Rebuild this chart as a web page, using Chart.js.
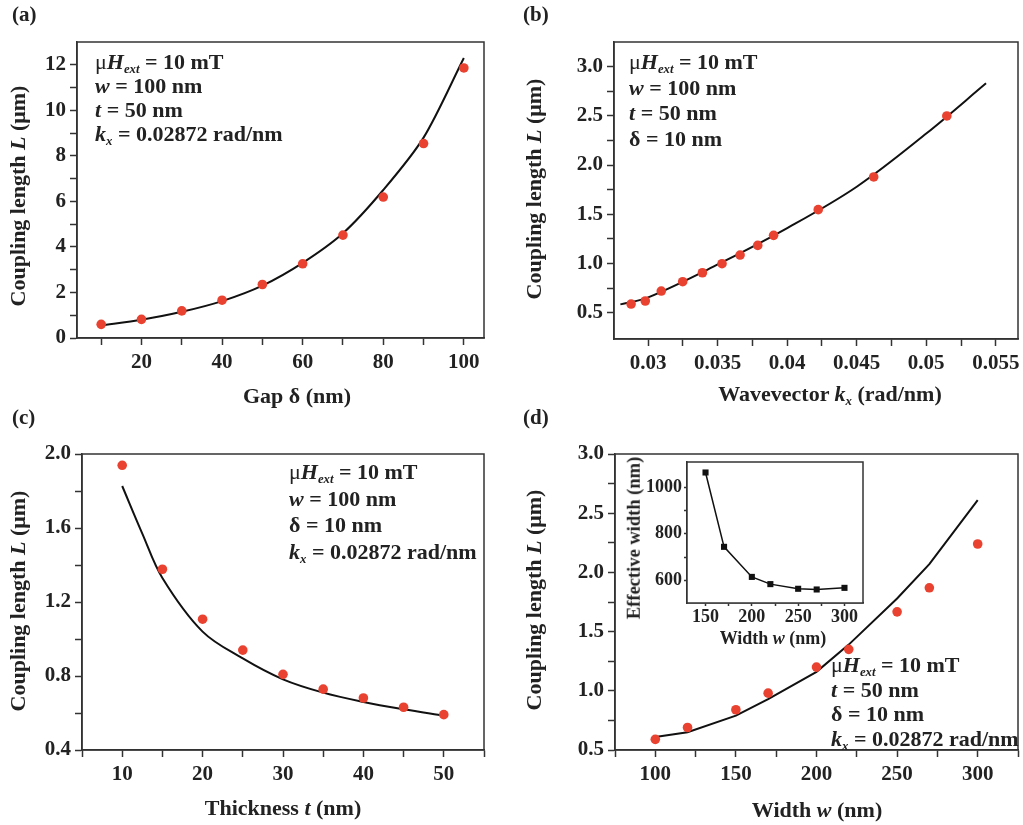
<!DOCTYPE html>
<html>
<head>
<meta charset="utf-8">
<title>Coupling length</title>
<script src="https://cdn.jsdelivr.net/npm/chart.js@4.4.0/dist/chart.umd.min.js"></script>
<style>
html, body { margin: 0; padding: 0; background: #fff; overflow: hidden; }
#page { position: relative; width: 1023px; height: 825px; font-family: "Liberation Serif", "Times New Roman", serif; font-weight: bold; color: #222; }
canvas { position: absolute; left: 0; top: 0; }
.t { position: absolute; white-space: nowrap; line-height: 1; transform: translate(-50%, -50%); font-size: 22px; }
.rot { transform: translate(-50%, -50%) rotate(-90deg); }
.small { font-size: 18px; }
.lbl { position: absolute; font-size: 21px; line-height: 24px; }
.ann { position: absolute; white-space: nowrap; font-size: 22px; line-height: 24px; }
sub { font-size: 58%; vertical-align: -0.3em; line-height: 0; }
.mu { font-weight: normal; }
</style>
</head>
<body>
<div id="page">
  <canvas id="chartA" width="1023" height="825"></canvas>
  <canvas id="chartB" width="1023" height="825"></canvas>
  <canvas id="chartC" width="1023" height="825"></canvas>
  <canvas id="chartD" width="1023" height="825"></canvas>
  <canvas id="chartInset" width="1023" height="825"></canvas>

  <div class="lbl" style="left:12px;top:2px">(a)</div>
  <div class="lbl" style="left:523px;top:2px">(b)</div>
  <div class="lbl" style="left:12px;top:405px">(c)</div>
  <div class="lbl" style="left:523px;top:405px">(d)</div>

  <div class="t" style="left:297px;top:396px">Gap δ (nm)</div>
  <div class="t rot" style="left:18px;top:196px">Coupling length <i>L</i> (μm)</div>
  <div class="t" style="left:830px;top:394px">Wavevector <i>k<sub>x</sub></i> (rad/nm)</div>
  <div class="t rot" style="left:534px;top:189px">Coupling length <i>L</i> (μm)</div>
  <div class="t" style="left:283px;top:808px">Thickness <i>t</i> (nm)</div>
  <div class="t rot" style="left:18px;top:601px">Coupling length <i>L</i> (μm)</div>
  <div class="t" style="left:817px;top:810px">Width <i>w</i> (nm)</div>
  <div class="t rot" style="left:534px;top:600px">Coupling length <i>L</i> (μm)</div>
  <div class="t small" style="left:773px;top:638px">Width <i>w</i> (nm)</div>
  <div class="t small rot" style="left:634px;top:538px;font-size:18.5px">Effective width (nm)</div>

  <div class="ann" style="left:95px;top:50px">
    <div><span class="mu">μ</span><i>H<sub>ext</sub></i> = 10 mT</div>
    <div><i>w</i> = 100 nm</div>
    <div><i>t</i> = 50 nm</div>
    <div><i>k<sub>x</sub></i> = 0.02872 rad/nm</div>
  </div>
  <div class="ann" style="left:629px;top:49px;line-height:25.5px">
    <div><span class="mu">μ</span><i>H<sub>ext</sub></i> = 10 mT</div>
    <div><i>w</i> = 100 nm</div>
    <div><i>t</i> = 50 nm</div>
    <div>δ = 10 nm</div>
  </div>
  <div class="ann" style="left:289px;top:459px;line-height:26.5px">
    <div><span class="mu">μ</span><i>H<sub>ext</sub></i> = 10 mT</div>
    <div><i>w</i> = 100 nm</div>
    <div>δ = 10 nm</div>
    <div><i>k<sub>x</sub></i> = 0.02872 rad/nm</div>
  </div>
  <div class="ann" style="left:831px;top:653px;line-height:24.5px">
    <div><span class="mu">μ</span><i>H<sub>ext</sub></i> = 10 mT</div>
    <div><i>t</i> = 50 nm</div>
    <div>δ = 10 nm</div>
    <div><i>k<sub>x</sub></i> = 0.02872 rad/nm</div>
  </div>
</div>

<script>
// (a) coupling length vs gap
const gapNm = [10, 20, 30, 40, 50, 60, 70, 80, 90, 100];
const gapL = [0.60, 0.82, 1.19, 1.66, 2.35, 3.26, 4.52, 6.19, 8.54, 11.86];
const gapFitL = [0.55, 0.80, 1.15, 1.62, 2.30, 3.30, 4.60, 6.50, 8.80, 12.30];

// (b) coupling length vs wavevector
const kxVals = [0.02877, 0.02979, 0.03094, 0.03248, 0.03390, 0.03531, 0.03661, 0.03788, 0.03902, 0.04223, 0.04622, 0.05148];
const kxL = [0.588, 0.619, 0.720, 0.815, 0.906, 0.998, 1.086, 1.184, 1.286, 1.547, 1.879, 2.499];
const kxFit = [0.0280, 0.0300, 0.0350, 0.0400, 0.0450, 0.0500, 0.0543];
const kxFitL = [0.585, 0.656, 0.990, 1.360, 1.780, 2.320, 2.830];

// (c) coupling length vs thickness
const thickNm = [10, 15, 20, 25, 30, 35, 40, 45, 50];
const thickL = [1.939, 1.377, 1.107, 0.940, 0.809, 0.729, 0.681, 0.631, 0.591];
const thickFit = [10, 12.5, 15, 20, 25, 30, 35, 40, 45, 50];
const thickFitL = [1.827, 1.570, 1.330, 1.040, 0.895, 0.782, 0.710, 0.660, 0.620, 0.585];

// (d) coupling length vs width, plus inset
const widthNm = [100, 120, 150, 170, 200, 220, 250, 270, 300];
const widthL = [0.59, 0.69, 0.84, 0.98, 1.20, 1.35, 1.667, 1.87, 2.24];
const widthFitL = [0.61, 0.65, 0.79, 0.93, 1.16, 1.39, 1.78, 2.07, 2.61];
const insetW = [150, 170, 200, 220, 250, 270, 300];
const insetEff = [1063, 744, 615, 584, 564, 561, 568];

// tick values and labels
const aXMajor = [20, 40, 60, 80, 100], aXMinor = [10, 30, 50, 70, 90];
const aXLabels = ['20', '40', '60', '80', '100'];
const aYMajor = [0, 2, 4, 6, 8, 10, 12], aYMinor = [1, 3, 5, 7, 9, 11];
const aYLabels = ['0', '2', '4', '6', '8', '10', '12'];
const bXMajor = [0.03, 0.035, 0.04, 0.045, 0.05, 0.055], bXMinor = [0.0325, 0.0375, 0.0425, 0.0475, 0.0525];
const bXLabels = ['0.03', '0.035', '0.04', '0.045', '0.05', '0.055'];
const bYMajor = [0.5, 1.0, 1.5, 2.0, 2.5, 3.0], bYMinor = [0.75, 1.25, 1.75, 2.25, 2.75];
const bYLabels = ['0.5', '1.0', '1.5', '2.0', '2.5', '3.0'];
const cXMajor = [10, 20, 30, 40, 50], cXMinor = [5, 15, 25, 35, 45, 55];
const cXLabels = ['10', '20', '30', '40', '50'];
const cYMajor = [0.4, 0.8, 1.2, 1.6, 2.0], cYMinor = [0.6, 1.0, 1.4, 1.8];
const cYLabels = ['0.4', '0.8', '1.2', '1.6', '2.0'];
const dXMajor = [100, 150, 200, 250, 300], dXMinor = [75, 125, 175, 225, 275, 325];
const dXLabels = ['100', '150', '200', '250', '300'];
const dYMajor = [0.5, 1.0, 1.5, 2.0, 2.5, 3.0], dYMinor = [0.75, 1.25, 1.75, 2.25, 2.75];
const dYLabels = ['0.5', '1.0', '1.5', '2.0', '2.5', '3.0'];
const iXMajor = [150, 200, 250, 300], iXMinor = [175, 225, 275];
const iXLabels = ['150', '200', '250', '300'];
const iYMajor = [600, 800, 1000], iYMinor = [700, 900];
const iYLabels = ['600', '800', '1000'];

const W = 1023, H = 825;
const RED = '#ea4230';

Chart.defaults.font.family = '"Liberation Serif", "Times New Roman", serif';
Chart.defaults.font.weight = 'bold';
Chart.defaults.color = '#222';

function toXY(xs, ys) {
    return xs.map((x, i) => ({ x: x, y: ys[i] }));
}

/**
 * Build a linear axis with fixed ticks, outward tick marks and blank minor labels
 */
function makeAxis(isX, min, max, major, minor, labels, s) {
    const all = major.concat(minor).sort((a, b) => a - b);
    return {
        type: 'linear',
        position: isX ? 'bottom' : 'left',
        min: min,
        max: max,
        afterBuildTicks: function(scale) {
            scale.ticks = all.map(v => ({ value: v }));
        },
        afterFit: function(scale) {
            if (isX) {
                scale.height = s.xh;
                scale.paddingLeft = 0;
                scale.paddingRight = 0;
            } else {
                scale.width = s.yw;
                scale.paddingTop = 0;
                scale.paddingBottom = 0;
            }
        },
        grid: { drawOnChartArea: false, tickLength: s.tick, tickColor: '#333', tickWidth: 1.5 },
        border: { color: '#333', width: 1.5 },
        ticks: {
            autoSkip: false,
            maxRotation: 0,
            minRotation: 0,
            padding: isX ? s.xpad : s.ypad,
            font: { size: s.font },
            color: '#222',
            callback: function(v) {
                const i = major.findIndex(m => Math.abs(m - v) < 1e-9);
                return i < 0 ? '' : labels[i];
            }
        }
    };
}

// frame around the plot area (and white fill for the inset)
const framePlugin = {
    id: 'frame',
    beforeDatasetsDraw(chart, args, opts) {
        if (opts.fill) {
            const a = chart.chartArea;
            chart.ctx.save();
            chart.ctx.fillStyle = '#fff';
            chart.ctx.fillRect(a.left, a.top, a.right - a.left, a.bottom - a.top);
            chart.ctx.restore();
        }
    },
    afterDraw(chart) {
        const a = chart.chartArea, ctx = chart.ctx;
        ctx.save();
        ctx.strokeStyle = '#333';
        ctx.lineWidth = 1.5;
        ctx.strokeRect(a.left, a.top, a.right - a.left, a.bottom - a.top);
        ctx.restore();
    }
};

function makePanel(id, area, xAxis, yAxis, datasets, s, fill) {
    new Chart(document.getElementById(id), {
        type: 'scatter',
        data: { datasets: datasets },
        options: {
            responsive: false,
            animation: false,
            devicePixelRatio: 1,
            layout: {
                padding: { left: area.l - s.yw, top: area.t, right: W - area.r, bottom: H - area.b - s.xh }
            },
            plugins: { legend: { display: false }, tooltip: { enabled: false }, frame: { fill: !!fill } },
            scales: { x: xAxis, y: yAxis }
        },
        plugins: [framePlugin]
    });
}

function dots(xs, ys) {
    return { data: toXY(xs, ys), showLine: false, pointRadius: 4.8, backgroundColor: RED, borderWidth: 0, pointHoverRadius: 4.8 };
}
function curve(xs, ys, tension) {
    return {
        data: toXY(xs, ys), showLine: true, pointRadius: 0, borderColor: '#111', borderWidth: 2,
        tension: tension
    };
}

const main = { yw: 60, xh: 50, tick: 7, xpad: 5, ypad: 4, font: 21 };

makePanel('chartA', { l: 77, t: 42, r: 484, b: 338 },
    makeAxis(true, 4, 105, aXMajor, aXMinor, aXLabels, main),
    makeAxis(false, 0, 13, aYMajor, aYMinor, aYLabels, main),
    [dots(gapNm, gapL), curve(gapNm, gapFitL, 0.3)], main);

makePanel('chartB', { l: 614, t: 42, r: 1018, b: 339 },
    makeAxis(true, 0.02754, 0.0566, bXMajor, bXMinor, bXLabels, main),
    makeAxis(false, 0.233, 3.25, bYMajor, bYMinor, bYLabels, main),
    [dots(kxVals, kxL), curve(kxFit, kxFitL, 0.35)], main);

makePanel('chartC', { l: 82, t: 454, r: 484, b: 750 },
    makeAxis(true, 5, 55, cXMajor, cXMinor, cXLabels, main),
    makeAxis(false, 0.4, 2.0, cYMajor, cYMinor, cYLabels, main),
    [dots(thickNm, thickL), curve(thickFit, thickFitL, 0.35)], main);

makePanel('chartD', { l: 615, t: 454, r: 1018, b: 750 },
    makeAxis(true, 75, 325, dXMajor, dXMinor, dXLabels, main),
    makeAxis(false, 0.5, 3.0, dYMajor, dYMinor, dYLabels, main),
    [dots(widthNm, widthL), curve(widthNm, widthFitL, 0)], main);

const inset = { yw: 50, xh: 30, tick: 3, xpad: 1, ypad: 2, font: 18 };
makePanel('chartInset', { l: 687, t: 462, r: 863, b: 603 },
    makeAxis(true, 130, 320, iXMajor, iXMinor, iXLabels, inset),
    makeAxis(false, 503, 1108, iYMajor, iYMinor, iYLabels, inset),
    [{
        data: toXY(insetW, insetEff), showLine: true, borderColor: '#111', borderWidth: 1.5,
        pointStyle: 'rect', pointRadius: 4.3, backgroundColor: '#111', pointBorderWidth: 0, tension: 0
    }], inset, true);
</script>
</body>
</html>
